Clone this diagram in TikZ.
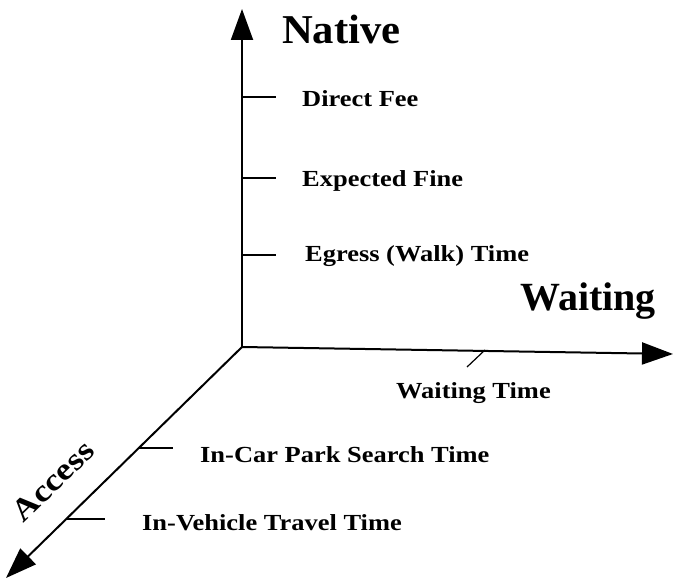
\documentclass[tikz,border=0pt]{standalone}
\usepackage{fontspec}
\setmainfont{Liberation Serif}
\newfontfamily\lblfont[FakeStretch=1.15]{Liberation Serif}
\newfontfamily\bigfont[FakeStretch=1.04]{Liberation Serif}
\usetikzlibrary{arrows.meta}
\tikzset{
  axis/.style={line width=2pt,-{Triangle[length=31pt,width=22pt]}},
  tick/.style={line width=1.2pt},
  lbl/.style={font=\lblfont\bfseries\fontsize{23}{26}\selectfont,anchor=west,inner sep=0pt},
  big/.style={font=\bigfont\bfseries\fontsize{41}{44}\selectfont,inner sep=0pt}
}
\begin{document}
\begin{tikzpicture}[x=1pt,y=-1pt]
\useasboundingbox (0,0) rectangle (673,580);
\coordinate (O) at (242,347);
\coordinate (tipN) at (242,9);
\coordinate (tipW) at (673,354);
\coordinate (tipA) at (6,578);
\draw[axis] (O) -- (tipN);
\draw[axis] (O) -- (tipW);
\draw[axis] (O) -- (tipA);
% native ticks
\coordinate (n1) at (242,97); \coordinate (n1e) at (276,97);
\coordinate (n2) at (242,178); \coordinate (n2e) at (276,178);
\coordinate (n3) at (242,255); \coordinate (n3e) at (276,255);
\draw[tick] (n1) -- (n1e);
\draw[tick] (n2) -- (n2e);
\draw[tick] (n3) -- (n3e);
\node[lbl] (df) at (302,99) {Direct Fee};
\node[lbl] (ef) at (302,181) {Expected Fine};
\node[lbl] (eg) at (305,256) {Egress (Walk) Time};
\node[big,anchor=west] (nat) at (282,29) {Native};
% waiting
\coordinate (w1) at (485,350); \coordinate (w1e) at (467,367);
\draw[tick] (w1) -- (w1e);
\node[font=\bfseries\fontsize{40}{44}\selectfont,inner sep=0pt,anchor=west] (wai) at (520,301) {Waiting};
\node[lbl] (wt) at (396,393) {Waiting Time};
% access
\coordinate (a1) at (138.5,448); \coordinate (a1e) at (173,448);
\coordinate (a2) at (66,519); \coordinate (a2e) at (105,519);
\draw[tick] (a1) -- (a1e);
\draw[tick] (a2) -- (a2e);
\node[lbl] (cp) at (200,455) {In-Car Park Search Time};
\node[lbl] (iv) at (142,523) {In-Vehicle Travel Time};
\node[font=\lblfont\bfseries\fontsize{31}{34}\selectfont,inner sep=0pt,rotate=44] (acc) at (53,481) {Access};
\end{tikzpicture}
\end{document}
